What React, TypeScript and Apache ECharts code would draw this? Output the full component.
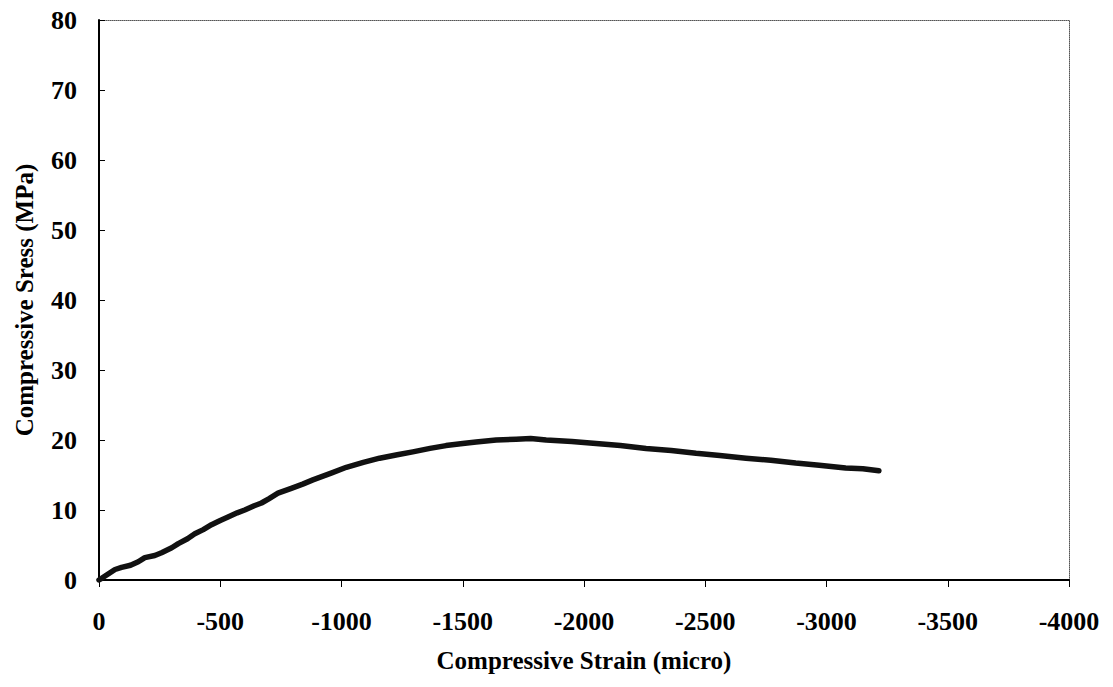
import React, { useEffect, useRef } from "react";
import * as echarts from "echarts";

const strain: number[] = [
  0, -11, -66, -93, -130, -162, -189, -230, -258, -300, -327, -365, -395, -430,
  -464, -500, -532, -570, -601, -640, -670, -700, -738, -793, -840, -882, -960,
  -1020, -1090, -1157, -1230, -1294, -1365, -1431, -1500, -1555, -1638, -1720,
  -1780, -1844, -1950, -2050, -2150, -2256, -2360, -2462, -2560, -2668, -2770,
  -2873, -2970, -3079, -3150, -3216,
];
const stress: number[] = [
  0, 0.24, 1.5, 1.8, 2.1, 2.6, 3.2, 3.5, 3.9, 4.6, 5.2, 5.9, 6.6, 7.2,
  7.9, 8.5, 9.0, 9.6, 10.0, 10.6, 11.0, 11.6, 12.4, 13.1, 13.7, 14.3, 15.3,
  16.1, 16.8, 17.4, 17.9, 18.3, 18.8, 19.2, 19.5, 19.7, 20.0, 20.1,
  20.2, 20.0, 19.8, 19.5, 19.2, 18.8, 18.5, 18.1, 17.8, 17.4, 17.1,
  16.7, 16.4, 16.0, 15.9, 15.6,
];
const xTickLabels: string[] = ["0", "-500", "-1000", "-1500", "-2000", "-2500", "-3000", "-3500", "-4000"];
const yTickLabels: string[] = ["0", "10", "20", "30", "40", "50", "60", "70", "80"];

const FONT = "'Liberation Serif', 'Times New Roman', serif";

export default function App() {
  const ref = useRef<HTMLDivElement>(null);
  useEffect(() => {
    if (!ref.current) return;
    const chart = echarts.init(ref.current, null, { renderer: "svg" });
    const data = strain.map((s, i) => [s, stress[i]]);
    const labelStyle = { fontFamily: FONT, fontWeight: "bold" as const, fontSize: 26, color: "#000" };
    chart.setOption({
      animation: false,
      backgroundColor: "#fff",
      grid: { left: 99, right: 44, top: 20, bottom: 107, containLabel: false },
      xAxis: [
        {
          type: "value",
          min: -4000,
          max: 0,
          interval: 500,
          inverse: true,
          name: "Compressive Strain (micro)",
          nameLocation: "middle",
          nameGap: 68,
          nameTextStyle: { fontFamily: FONT, fontWeight: "bold", fontSize: 25, color: "#000" },
          axisLine: { show: true, onZero: false, lineStyle: { color: "#000", width: 2 } },
          axisTick: { show: true, inside: false, length: 7, lineStyle: { color: "#000", width: 1 } },
          axisLabel: {
            ...labelStyle,
            margin: 28,
            formatter: (v: number) => {
              const idx = Math.round(-v / 500);
              return xTickLabels[idx] ?? String(v);
            },
          },
          splitLine: { show: false },
        },
        {
          type: "value",
          position: "top",
          min: -4000,
          max: 0,
          inverse: true,
          axisLine: { show: true, onZero: false, lineStyle: { color: "#555", width: 1, type: "dotted" } },
          axisTick: { show: false },
          axisLabel: { show: false },
          splitLine: { show: false },
        },
      ],
      yAxis: [
        {
          type: "value",
          min: 0,
          max: 80,
          interval: 10,
          name: "Compressive Sress (MPa)",
          nameLocation: "middle",
          nameGap: 62,
          nameTextStyle: { fontFamily: FONT, fontWeight: "bold", fontSize: 25, color: "#000" },
          axisLine: { show: true, onZero: false, lineStyle: { color: "#000", width: 2 } },
          axisTick: { show: true, inside: true, length: 6, lineStyle: { color: "#000", width: 1 } },
          axisLabel: {
            ...labelStyle,
            margin: 22,
            formatter: (v: number) => yTickLabels[Math.round(v / 10)] ?? String(v),
          },
          splitLine: { show: false },
        },
        {
          type: "value",
          position: "right",
          min: 0,
          max: 80,
          axisLine: { show: true, onZero: false, lineStyle: { color: "#555", width: 1, type: "dotted" } },
          axisTick: { show: false },
          axisLabel: { show: false },
          splitLine: { show: false },
        },
      ],
      series: [
        {
          type: "line",
          data,
          xAxisIndex: 0,
          yAxisIndex: 0,
          showSymbol: false,
          smooth: false,
          lineStyle: { color: "#111", width: 5.5, join: "round", cap: "round" },
        },
      ],
    });
    return () => chart.dispose();
  }, []);
  return (
    <div
      ref={ref}
      style={{ position: "absolute", left: 0, top: 0, width: 1113, height: 687 }}
    />
  );
}
